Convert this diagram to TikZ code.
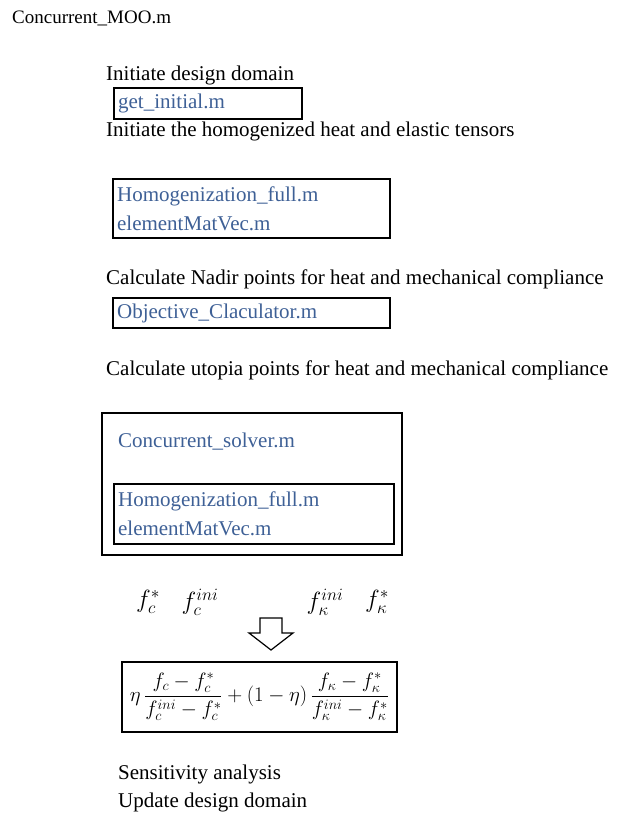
\documentclass[tikz,border=0pt]{standalone}
\usepackage{fontspec}
\setmainfont{Liberation Serif}
\usetikzlibrary{positioning}
\definecolor{fileblue}{RGB}{62,96,150}

\begin{document}
\begin{tikzpicture}[x=1pt, y=-1pt, font=\fontsize{21}{29}\selectfont,
  step label/.style={anchor=west, inner sep=0pt},
  filebox/.style={draw, line width=2.2pt, anchor=north west, align=left,
    inner xsep=4pt, inner ysep=0pt, text=fileblue},
  fval/.style={inner sep=0pt, font=\fontsize{25}{28}\selectfont}]
  \useasboundingbox (0,0) rectangle (622,815);

  \node[step label, font=\fontsize{19}{21}\selectfont] (main) at (12,18) {Concurrent\_MOO.m};

  \node[step label] (init) at (106,75) {Initiate design domain};
  \node[filebox, minimum width=188pt, minimum height=31pt, text width=180pt] (getinit) at (113,87) {get\_initial.m};
  \node[step label] (tensors) at (106,131) {Initiate the homogenized heat and elastic tensors};
  \node[filebox, minimum width=277pt, minimum height=59pt, text width=269pt] (homog) at (112,178)
    {Homogenization\_full.m\\elementMatVec.m};

  \node[step label] (nadir) at (106,279) {Calculate Nadir points for heat and mechanical compliance};
  \node[filebox, minimum width=277pt, minimum height=30pt, text width=269pt] (objcalc) at (112,297) {Objective\_Claculator.m};

  \node[step label] (utopia) at (106,370) {Calculate utopia points for heat and mechanical compliance};
  \node[filebox, minimum width=300pt, minimum height=142pt] (solver) at (101,412) {};
  \node[step label, text=fileblue] (solvername) at (118,442) {Concurrent\_solver.m};
  \node[filebox, minimum width=280pt, minimum height=60pt, text width=272pt] (homoginner) at (113,483)
    {Homogenization\_full.m\\elementMatVec.m};

  \node[fval] (fcstar) at (148,602) {$f_c^{*}$};
  \node[fval] (fcini) at (200,602) {$f_c^{ini}$};
  \node[fval] (fkini) at (325,602) {$f_\kappa^{ini}$};
  \node[fval] (fkstar) at (377,602) {$f_\kappa^{*}$};

  % hollow arrow down to the weighted sum
  \draw[line width=1.2pt, line join=miter] (260,618) -- (282,618) -- (282,633) -- (293,633)
    -- (271,650) -- (249,633) -- (260,633) -- cycle;

  \node[draw, line width=1.3pt, minimum width=275pt, minimum height=70pt, inner sep=1pt] (weighted) at (259.5,697)
    {\fontsize{20}{22}\selectfont$\displaystyle \eta\,\frac{f_c-f_c^{*}}{f_c^{ini}-f_c^{*}}+(1-\eta)\,\frac{f_\kappa-f_\kappa^{*}}{f_\kappa^{ini}-f_\kappa^{*}}$};

  \node[step label] (sens) at (118,774) {Sensitivity analysis};
  \node[step label] (update) at (118,802) {Update design domain};
\end{tikzpicture}
\end{document}
